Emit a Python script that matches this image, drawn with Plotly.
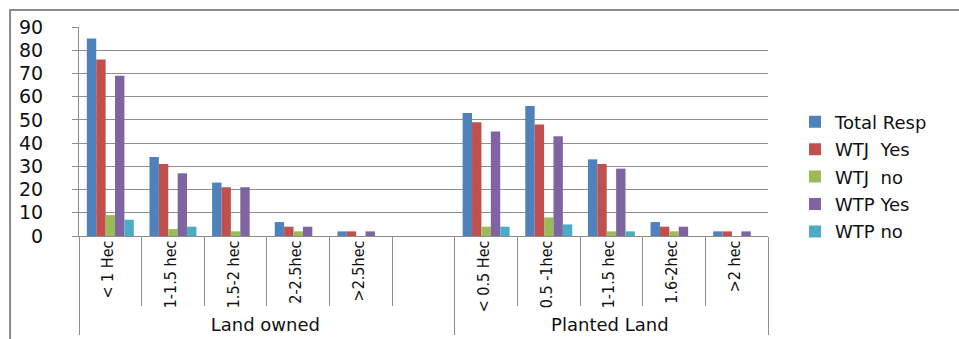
import plotly.graph_objects as go

# Land-size categories, one list per group
groups = ["Land owned", "Planted Land"]
owned_sizes = ["< 1 Hec", "1-1.5 hec", "1.5-2 hec", "2-2.5hec", ">2.5hec"]
# non-breaking space keeps this label distinct from the owned "1-1.5 hec"
planted_sizes = ["< 0.5 Hec", "0.5 -1hec", "1-1.5\u00a0hec", "1.6-2hec", ">2 hec"]

# Respondent counts per series: owned land, then planted land
total_resp_owned = [85, 34, 23, 6, 2]
wtj_yes_owned = [76, 31, 21, 4, 2]
wtj_no_owned = [9, 3, 2, 2, 0]
wtp_yes_owned = [69, 27, 21, 4, 2]
wtp_no_owned = [7, 4, 0, 0, 0]

total_resp_planted = [53, 56, 33, 6, 2]
wtj_yes_planted = [49, 48, 31, 4, 2]
wtj_no_planted = [4, 8, 2, 2, 0]
wtp_yes_planted = [45, 43, 29, 4, 2]
wtp_no_planted = [4, 5, 2, 0, 0]

series_names = ["Total Resp", "WTJ\u00a0 Yes", "WTJ\u00a0 no", "WTP Yes", "WTP no"]
series_colors = ["#4F81BD", "#C0504D", "#9BBB59", "#8064A2", "#4BACC6"]

series_owned = [total_resp_owned, wtj_yes_owned, wtj_no_owned, wtp_yes_owned, wtp_no_owned]
series_planted = [total_resp_planted, wtj_yes_planted, wtj_no_planted, wtp_yes_planted, wtp_no_planted]

NARROW_FONT = "'Liberation Sans Narrow','DejaVu Sans Condensed','Roboto',sans-serif"
TEXT_FONT = "DejaVu Sans"


def size_label(label):
    # rotated size-class labels use a condensed face
    return f'<span style="font-family:{NARROW_FONT};font-size:16px">{label}</span>'


def group_label(label):
    return f'<span style="font-family:{TEXT_FONT};font-size:18px">{label}</span>'


# The owned group carries an empty spacer slot after its last size class
spacer = " "
inner = [size_label(s) for s in owned_sizes] + [spacer] + [size_label(s) for s in planted_sizes]
outer = ([group_label(groups[0])] * (len(owned_sizes) + 1)
         + [group_label(groups[1])] * len(planted_sizes))

fig = go.Figure()
for name, color, own, plant in zip(series_names, series_colors, series_owned, series_planted):
    fig.add_trace(go.Bar(
        x=[outer, inner],
        y=own + [None] + plant,
        name=name,
        legendgroup=name,
        marker=dict(color=color, line=dict(width=0)),
    ))

grid = "#8E8E8E"
ink = "#111111"
fig.update_layout(
    width=959,
    height=339,
    margin=dict(l=79, r=191, t=27, b=103, autoexpand=False),
    paper_bgcolor="white",
    plot_bgcolor="white",
    barmode="group",
    bargap=0.25,
    bargroupgap=0,
    font=dict(family=TEXT_FONT, size=17, color=ink),
    showlegend=True,
    legend=dict(
        xref="container", yref="container",
        x=0.829, y=0.479, xanchor="left", yanchor="middle",
        font=dict(family=TEXT_FONT, size=18, color=ink),
        tracegroupgap=1,
        bgcolor="rgba(0,0,0,0)",
    ),
    xaxis=dict(
        type="multicategory",
        tickangle=-90,
        showline=True, linecolor=grid, linewidth=1,
        ticks="outside", ticklen=69, tickcolor=grid, tickwidth=1,
        showdividers=True, dividercolor=grid, dividerwidth=1,
        tickfont=dict(family=TEXT_FONT, size=9, color=ink),
        showgrid=False,
        automargin=False,
    ),
    yaxis=dict(
        range=[0, 90], dtick=10,
        showgrid=True, gridcolor=grid, gridwidth=1,
        showline=True, linecolor=grid, linewidth=1,
        ticks="outside", ticklen=6, tickcolor=grid,
        ticklabelstandoff=25,
        tickfont=dict(family=TEXT_FONT, size=19, color=ink),
        zeroline=False,
        automargin=False,
    ),
    shapes=[dict(
        type="path", xref="paper", yref="paper",
        path="M -0.1001,-0.55 L -0.1001,1.0813 L 1.3,1.0813",
        line=dict(color="#8C8C8C", width=2),
    )],
)

fig.write_html("out.html")
